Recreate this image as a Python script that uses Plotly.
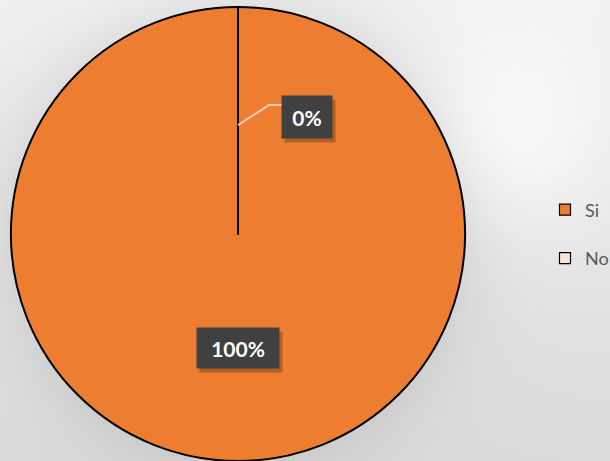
import base64
import struct
import zlib

import numpy as np
import plotly.graph_objects as go

# ---- data ----
labels = ["Si", "No"]
values = [100, 0]
slice_colors = ["#ED7D31", "#FBE5D6"]

W, H = 610, 461
CX, CY, R = 238, 234, 227  # pie centre / radius in pixels


def png_uri(arr):
    h, w = arr.shape
    raw = b"".join(b"\x00" + arr[i].tobytes() for i in range(h))

    def chunk(t, d):
        c = struct.pack(">I", len(d)) + t + d
        return c + struct.pack(">I", zlib.crc32(t + d) & 0xFFFFFFFF)

    png = (b"\x89PNG\r\n\x1a\n"
           + chunk(b"IHDR", struct.pack(">IIBBBBB", w, h, 8, 0, 0, 0, 0))
           + chunk(b"IDAT", zlib.compress(raw, 9))
           + chunk(b"IEND", b""))
    return "data:image/png;base64," + base64.b64encode(png).decode()


# background: soft grey gradient with a light spot and a shadow around the pie
yy, xx = np.mgrid[0:H, 0:W].astype(float)
base = 241 - 22 * (yy / H)
d = np.hypot(xx - CX, yy - CY)
shadow = 15 * np.exp(-np.clip(d - R, 0, None) / 35)
spot = 15 * np.exp(-((xx - 505) ** 2 + (yy - 140) ** 2) / (2 * 75 ** 2))
bg = np.clip(base - shadow + spot, 0, 255).astype(np.uint8)


def px(x):
    return x / W


def py(y):
    return 1 - y / H


fig = go.Figure()
fig.add_trace(go.Pie(
    labels=labels, values=values, sort=False, direction="clockwise", rotation=0,
    marker=dict(colors=slice_colors, line=dict(color="#000000", width=2)),
    textinfo="none", showlegend=False,
    domain=dict(x=[px(CX - R - 1), px(CX + R + 1)], y=[py(CY + R), py(CY - R)]),
))

for lab, col in zip(labels, slice_colors):
    fig.add_trace(go.Scatter(
        x=[None], y=[None], mode="markers", name=lab, legendgroup=lab,
        marker=dict(symbol="square", size=11, color=col,
                    line=dict(color="#000000", width=1.2)),
    ))

# data labels
total = sum(values)
pcts = [v / total * 100 for v in values]
annotations = []
shapes = []
font = dict(family="Lato, Noto Sans, sans-serif", size=21, color="#FFFFFF")

# Si (100%) label: on the slice's middle direction, half the radius out
sx, sy = CX, CY + 0.5 * R
# No (0%) label: anchored on the zero slice boundary with leader line
ax0, ay0 = CX, CY - 0.48 * R
nx, ny = ax0 + 69, ay0 - 8

boxes = [(sx, sy, f"{pcts[0]:.0f}%", 78, 36), (nx, ny, f"{pcts[1]:.0f}%", 46, 38)]
for bx, by, txt, bw, bh in boxes:
    common = dict(x=px(bx), y=py(by), xref="paper", yref="paper", showarrow=False,
                  xanchor="center", yanchor="middle", width=bw, height=bh, borderpad=2)
    annotations.append(dict(text=" ", bgcolor="rgba(70,40,15,0.35)",
                            xshift=3, yshift=-4, **common))
    annotations.append(dict(text=f"<b>{txt}</b>", bgcolor="#404040", font=font, **common))

lx_end = nx - 25
shapes.append(dict(
    type="path", xref="paper", yref="paper",
    path=(f"M {px(ax0)} {py(ay0)} L {px(lx_end - 13)} {py(ay0 - 20)} "
          f"L {px(lx_end)} {py(ay0 - 20)}"),
    line=dict(color="#F8CBAD", width=2),
))

fig.update_layout(
    width=W, height=H, margin=dict(l=0, r=0, t=0, b=0, autoexpand=False),
    paper_bgcolor="#e8e8e8", plot_bgcolor="rgba(0,0,0,0)",
    xaxis=dict(visible=False), yaxis=dict(visible=False),
    images=[dict(source=png_uri(bg), xref="paper", yref="paper", x=0, y=1,
                 sizex=1, sizey=1, sizing="stretch", layer="below")],
    legend=dict(x=px(545), y=py(234), xanchor="left", yanchor="middle",
                font=dict(family="Lato, Noto Sans, sans-serif", size=18, color="#595959"),
                tracegroupgap=22, bgcolor="rgba(0,0,0,0)"),
    annotations=annotations, shapes=shapes,
)

fig.write_html("out.html", config={"displayModeBar": False},
               post_script="document.body.style.margin='0';")
